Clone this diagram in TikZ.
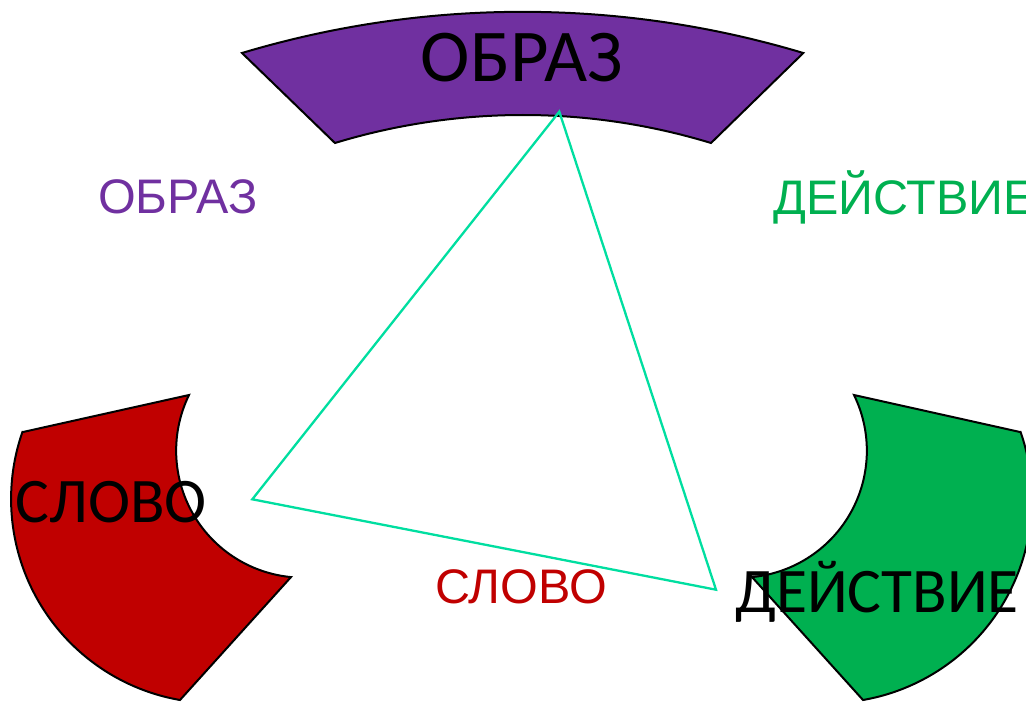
\documentclass[tikz,border=0pt]{standalone}
\usepackage{fontspec}
\setmainfont{Carlito}
\newfontfamily\arialfont{Liberation Sans}
\definecolor{cpurple}{RGB}{112,48,160}
\definecolor{cred}{RGB}{192,0,0}
\definecolor{cgreen}{RGB}{0,176,80}
\definecolor{ctri}{RGB}{0,222,160}
\begin{document}
\begin{tikzpicture}[x=1pt,y=-1pt,
  seg/.style={draw=black,line width=2pt,line join=miter},
  tri/.style={draw=ctri,line width=2.3pt,line join=miter},
  blackbig/.style={inner sep=0pt,anchor=base,text=black,font=\fontsize{74.5}{80}\selectfont},
  blackmid/.style={inner sep=0pt,anchor=base,text=black,font=\fontsize{63.5}{70}\selectfont},
  lbl/.style={inner sep=0pt,anchor=base,font=\arialfont\fontsize{48.5}{54}\selectfont}]
\useasboundingbox (0,0) rectangle (1026,702);
\clip (0,0) rectangle (1026,702);
% shapes
\path[seg,fill=cpurple] (242,53) arc[start angle=-106.7,end angle=-73.3,radius=976.7]
  -- (711,143) arc[start angle=-73.05,end angle=-106.95,radius=645] -- cycle;
\path[seg,fill=cred] (23,432) -- (189,395) arc[start angle=-154,end angle=-264.5,radius=127]
  -- (180,700) arc[start angle=-260.1,end angle=-160.8,radius=204] -- cycle;
\path[seg,fill=cgreen] (1020,432) -- (854,395) arc[start angle=-26,end angle=84.5,radius=127]
  -- (863,700) arc[start angle=80.1,end angle=-19.2,radius=204] -- cycle;
% triangle
\coordinate (A) at (559.3,111.7);
\coordinate (B) at (252.3,499.3);
\coordinate (C) at (716,589.7);
\draw[tri] (A) -- (B) -- (C) -- cycle;
% texts
\node[blackbig] (tobraz) at (522,81.7) {ОБРАЗ};
\node[blackmid] (tslovo) at (111,522.7) {СЛОВО};
\node[blackmid] (tdeist) at (877,612.7) {ДЕЙСТВИЕ};
\node[lbl,text=cpurple] (lobraz) at (178,213) {ОБРАЗ};
\node[lbl,text=cgreen,anchor=base west] (ldeist) at (773,214) {ДЕЙСТВИЕ};
\node[lbl,text=cred] (lslovo) at (521,603.3) {СЛОВО};
\end{tikzpicture}
\end{document}
